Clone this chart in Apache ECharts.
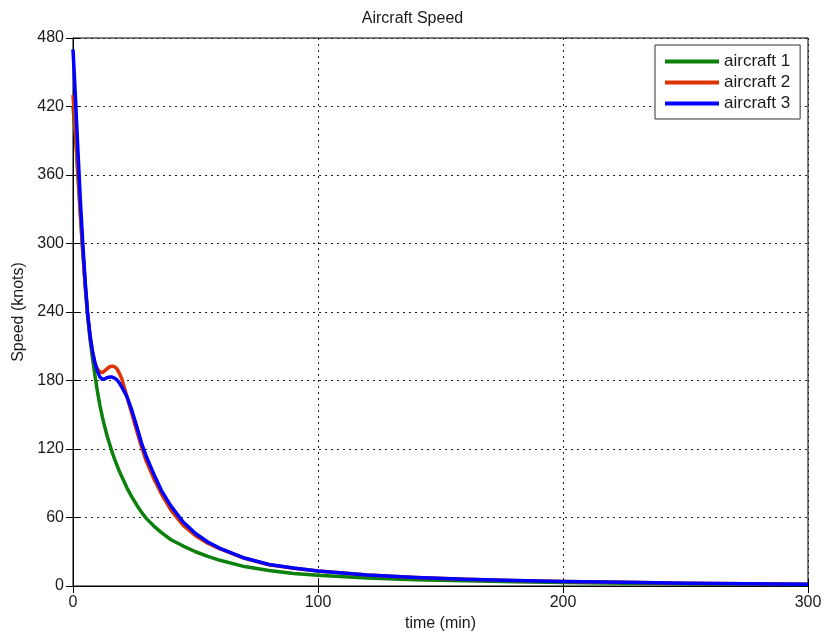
<!DOCTYPE html>
<html>
<head>
<meta charset="utf-8">
<script src="https://cdn.jsdelivr.net/npm/echarts@6/dist/echarts.min.js"></script>
<style>html,body{margin:0;padding:0;background:#fff}#c{width:825px;height:637px}</style>
</head>
<body>
<div id="c"></div>
<script>
const time = [0,1,2,3,4,5,6,7,8,9,10,11,12,13,14,15,16,17,18,19,20,22,24,26,28,30,33,36,40,45,50,55,60,70,80,90,100,120,140,160,180,200,225,250,275,300];
const aircraft1 = [420,395,360,325,292,262,236,215,199,184,170,158,148,139,131,124,117,111,105.5,100,95.5,86,78,71,64.5,59,52.5,47,40.5,35,30,26,22.5,17,13.5,11,9.5,7,5.5,4.5,3.7,3.1,2.5,2,1.6,1.3];
const aircraft2 = [430,398,362,327,294,263,237,218,204,195,190,187.5,187,188.5,190.5,192,192.6,192,190,186,181,166,151,136,121.5,109,94,81,66.5,53,44,37.5,32.5,24.2,18.6,15.6,13.1,9.6,7.4,5.9,4.8,4,3.2,2.5,2,1.6];
const aircraft3 = [470,428,382,338,300,266,238,219,205,195,188,183,181,181.5,182.5,183,183,182,180.5,177.5,174,166,154,140,125,113,98,84,70,56,46,38.5,33,24.5,18.8,15.7,13.2,9.6,7.4,5.9,4.8,4,3.2,2.5,2,1.6];
const seriesNames = ['aircraft 1','aircraft 2','aircraft 3'];
const xTicks = {min:0, max:300, interval:100};
const yTicks = {min:0, max:480, interval:60};

const pairs = arr => time.map((t,i)=>[t,arr[i]]);
const font = 'Liberation Sans, Arial, Helvetica, sans-serif';
const txt = '#1a1a1a';
const gridLine = {show:true, lineStyle:{color:'#222', type:[2,4], width:1}};
const mainAx = {
  axisLine:{show:true, lineStyle:{color:'#000', width:1}},
  axisTick:{show:true, inside:true, length:7, lineStyle:{color:'#000'}},
};
const chart = echarts.init(document.getElementById('c'), null, {renderer:'canvas'});
chart.setOption({
  backgroundColor:'#fff',
  animation:false,
  title:{text:'Aircraft Speed', left:'center', top:6, textStyle:{fontFamily:font, fontSize:16, fontWeight:'normal', color:txt}},
  grid:{left:73, right:17, top:38, bottom:49, show:true, borderColor:'#000', borderWidth:1, backgroundColor:'transparent'},
  legend:{
    orient:'vertical', left:655, top:45, width:148,
    padding:[8,10,7,10], itemGap:4, itemWidth:54, itemHeight:4,
    backgroundColor:'#fff', borderColor:'#333', borderWidth:1, borderRadius:0,
    textStyle:{fontFamily:font, fontSize:17, color:txt},
    data:seriesNames.map(n=>({name:n, icon:'rect'}))
  },
  xAxis:[
    Object.assign({type:'value', position:'bottom', min:xTicks.min, max:xTicks.max, interval:xTicks.interval,
      name:'time (min)', nameLocation:'middle', nameGap:30,
      nameTextStyle:{fontFamily:font, fontSize:16, color:txt},
      axisLabel:{fontFamily:font, fontSize:16, color:txt, margin:9},
      splitLine:gridLine}, mainAx),
    Object.assign({type:'value', position:'top', min:xTicks.min, max:xTicks.max, interval:xTicks.interval,
      axisLabel:{show:false}, splitLine:{show:false}}, mainAx)
  ],
  yAxis:[
    Object.assign({type:'value', position:'left', min:yTicks.min, max:yTicks.max, interval:yTicks.interval,
      name:'Speed (knots)', nameLocation:'middle', nameGap:46, nameRotate:90,
      nameTextStyle:{fontFamily:font, fontSize:16, color:txt},
      axisLabel:{fontFamily:font, fontSize:16, color:txt, margin:9},
      splitLine:gridLine}, mainAx),
    Object.assign({type:'value', position:'right', min:yTicks.min, max:yTicks.max, interval:yTicks.interval,
      axisLabel:{show:false}, splitLine:{show:false}}, mainAx)
  ],
  series:[
    {name:seriesNames[0], type:'line', data:pairs(aircraft1), showSymbol:false, smooth:false, color:'#0b800b', lineStyle:{width:3.5, color:'#0b800b', join:'round'}},
    {name:seriesNames[1], type:'line', data:pairs(aircraft2), showSymbol:false, smooth:false, color:'#dd3300', lineStyle:{width:3.5, color:'#dd3300', join:'round'}},
    {name:seriesNames[2], type:'line', data:pairs(aircraft3), showSymbol:false, smooth:false, color:'#0000ff', lineStyle:{width:3.5, color:'#0000ff', join:'round'}}
  ]
});
</script>
</body>
</html>
